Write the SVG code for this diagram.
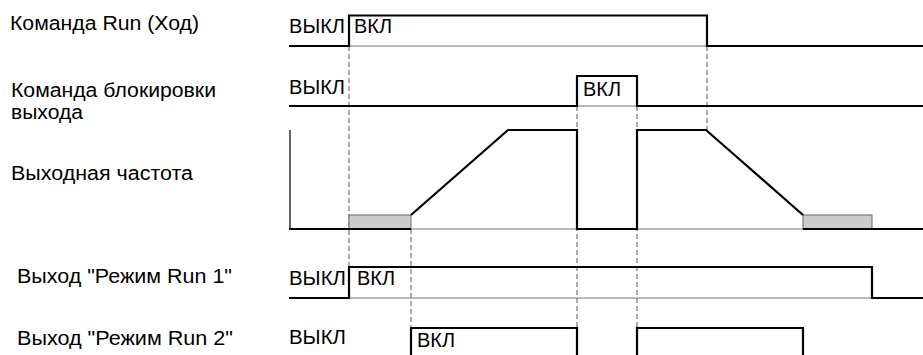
<svg xmlns="http://www.w3.org/2000/svg" width="923" height="355" viewBox="0 0 923 355">
<style>
text{font-family:"Liberation Sans",Arial,sans-serif;font-size:20px;fill:#000}
.sig{fill:none;stroke:#000;stroke-width:2.2}
.thin{fill:none;stroke:#777;stroke-width:1}
.dash{fill:none;stroke:#555;stroke-width:1;stroke-dasharray:5,3}
.box{fill:#cccccc;stroke:#666;stroke-width:1}
</style>
<rect width="923" height="355" fill="#fff"/>
<g id="labels">
<text x="10" y="30" textLength="189" lengthAdjust="spacingAndGlyphs">Команда Run (Ход)</text>
<text x="11" y="97" textLength="205" lengthAdjust="spacingAndGlyphs">Команда блокировки</text>
<text x="11" y="119" textLength="72" lengthAdjust="spacingAndGlyphs">выхода</text>
<text x="11" y="180" textLength="182" lengthAdjust="spacingAndGlyphs">Выходная частота</text>
<text x="17" y="283" textLength="215" lengthAdjust="spacingAndGlyphs">Выход "Режим Run 1"</text>
<text x="17" y="345" textLength="216" lengthAdjust="spacingAndGlyphs">Выход "Режим Run 2"</text>
</g>
<g id="connectors">
<line class="dash" x1="349" y1="46" x2="349" y2="267"/>
<line class="dash" x1="411" y1="229" x2="411" y2="328"/>
<line class="dash" x1="577" y1="106" x2="577" y2="328"/>
<line class="dash" x1="637" y1="106" x2="637" y2="328"/>
<line class="dash" x1="707" y1="46" x2="707" y2="130"/>
</g>
<g id="run-command">
<line class="thin" x1="349" y1="46" x2="707" y2="46"/>
<polyline class="sig" points="289,46 349,46 349,15.5 707,15.5 707,46 923,46"/>
<text x="289" y="33" textLength="56" lengthAdjust="spacingAndGlyphs">ВЫКЛ</text>
<text x="354" y="33" textLength="38" lengthAdjust="spacingAndGlyphs">ВКЛ</text>
</g>
<g id="block-command">
<line class="thin" x1="577" y1="106" x2="637" y2="106"/>
<polyline class="sig" points="289,106 577,106 577,76 637,76 637,106 923,106"/>
<text x="289" y="94" textLength="56" lengthAdjust="spacingAndGlyphs">ВЫКЛ</text>
<text x="583" y="96" textLength="38" lengthAdjust="spacingAndGlyphs">ВКЛ</text>
</g>
<g id="output-frequency">
<line class="thin" x1="289" y1="229" x2="923" y2="229"/>
<line x1="290" y1="130" x2="290" y2="229" stroke="#000" stroke-width="1.2"/>
<rect class="box" x="349" y="215" width="62" height="14"/>
<rect class="box" x="803" y="215" width="69" height="14"/>
<polyline class="sig" points="289,229 411,229"/>
<polyline class="sig" points="411,215 508,130 577,130 577,229 637,229 637,130 706,130 803,215"/>
<polyline class="sig" points="803,229 923,229"/>
</g>
<g id="run-mode-1">
<line class="thin" x1="349" y1="298" x2="872" y2="298"/>
<polyline class="sig" points="289,298 349,298 349,267 872,267 872,298 923,298"/>
<text x="289" y="285" textLength="57" lengthAdjust="spacingAndGlyphs">ВЫКЛ</text>
<text x="357" y="285" textLength="38" lengthAdjust="spacingAndGlyphs">ВКЛ</text>
</g>
<g id="run-mode-2">
<polyline class="sig" points="411,356 411,328 577,328 577,356"/>
<polyline class="sig" points="637,356 637,328 803,328 803,356"/>
<text x="289" y="344" textLength="57" lengthAdjust="spacingAndGlyphs">ВЫКЛ</text>
<text x="417" y="347" textLength="38" lengthAdjust="spacingAndGlyphs">ВКЛ</text>
</g>
</svg>
